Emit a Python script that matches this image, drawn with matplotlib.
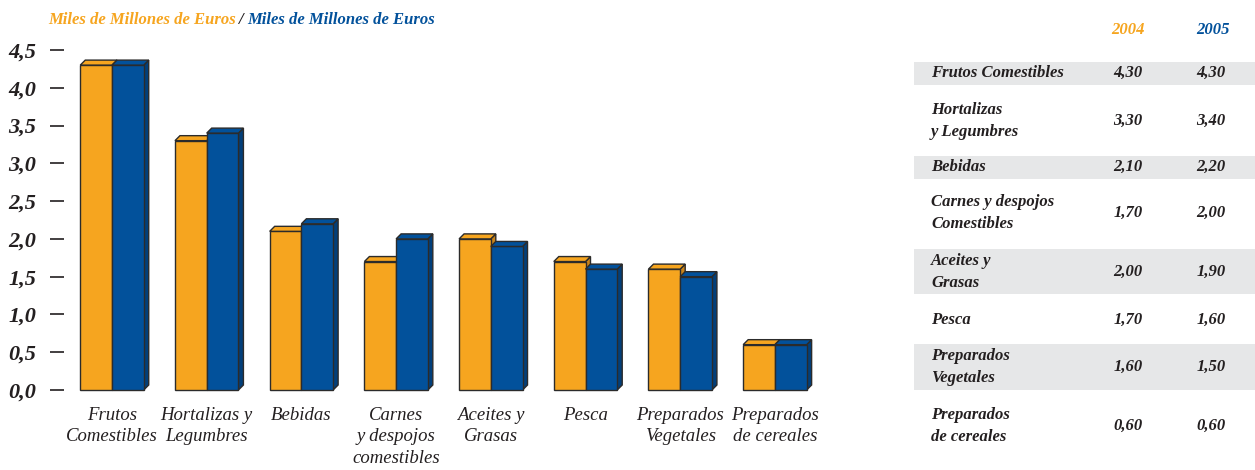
import matplotlib
matplotlib.use("Agg")
import matplotlib.pyplot as plt
from matplotlib.patches import Polygon, Rectangle

categories = ["Frutos\nComestibles", "Hortalizas y\nLegumbres", "Bebidas",
              "Carnes\ny despojos\ncomestibles", "Aceites y\nGrasas", "Pesca",
              "Preparados\nVegetales", "Preparados\nde cereales"]
table_labels = ["Frutos Comestibles", "Hortalizas\ny Legumbres", "Bebidas",
                "Carnes y despojos\nComestibles", "Aceites y\nGrasas", "Pesca",
                "Preparados\nVegetales", "Preparados\nde cereales"]
years = ["2004", "2005"]
values_2004 = [4.3, 3.3, 2.1, 1.7, 2.0, 1.7, 1.6, 0.6]
values_2005 = [4.3, 3.4, 2.2, 2.0, 1.9, 1.6, 1.5, 0.6]
yticks = [0.0, 0.5, 1.0, 1.5, 2.0, 2.5, 3.0, 3.5, 4.0, 4.5]
unit_label = "Miles de Millones de Euros"

ORANGE = "#F6A51F"
BLUE = "#02519B"
BLUE_SIDE = "#023F7A"
ORANGE_SIDE = "#C9841A"
EDGE = "#2b2b2b"
GRAY = "#E6E7E8"
TXT = "#231F20"
SERIF = ["Liberation Serif", "DejaVu Serif"]

W, H = 1255, 470
fig = plt.figure(figsize=(W / 100, H / 100), dpi=100)

# main chart axes (pixel layout)
ax_l, ax_r, ax_b, ax_t = 64, 830, 390, 50
ax = fig.add_axes([ax_l / W, (H - ax_b) / H, (ax_r - ax_l) / W, (ax_b - ax_t) / H])
step_px = 94.7
x0 = -(112 - ax_l) / step_px
ax.set_xlim(x0, x0 + (ax_r - ax_l) / step_px)
ax.set_ylim(0, 4.5)
for s in ax.spines.values():
    s.set_visible(False)

bw = 0.335
dx = 5 / step_px
dy = 5 / ((ax_b - ax_t) / 4.5)


def bar3d(x_left, val, face, side):
    ax.add_patch(Rectangle((x_left, 0), bw, val, facecolor=face, edgecolor=EDGE,
                           linewidth=1.0, zorder=3, clip_on=False))
    ax.add_patch(Polygon([(x_left, val), (x_left + dx, val + dy), (x_left + bw + dx, val + dy),
                          (x_left + bw, val)], closed=True, facecolor=face, edgecolor=EDGE,
                         linewidth=1.0, zorder=3, clip_on=False))
    ax.add_patch(Polygon([(x_left + bw, 0), (x_left + bw + dx, dy), (x_left + bw + dx, val + dy),
                          (x_left + bw, val)], closed=True, facecolor=side, edgecolor=EDGE,
                         linewidth=1.0, zorder=2.5, clip_on=False))


for i, (a, b) in enumerate(zip(values_2004, values_2005)):
    bar3d(i - bw, a, ORANGE, ORANGE_SIDE)
    bar3d(i, b, BLUE, BLUE_SIDE)

ax.set_yticks(yticks)
ax.set_yticklabels([f"{v:.1f}".replace(".", ",") for v in yticks],
                   fontfamily=SERIF, fontstyle="italic", fontweight="bold",
                   fontsize=16, color=TXT)
ax.tick_params(axis="y", direction="out", length=10, width=1.2, color=TXT, pad=10)
ax.set_xticks(range(len(categories)))
ax.set_xticklabels(categories, fontfamily=SERIF, fontstyle="italic", fontsize=13.5,
                   color=TXT, linespacing=1.35, va="top")
ax.tick_params(axis="x", length=0, pad=12)

# overlay axes for title and table (pixel coordinates)
ov = fig.add_axes([0, 0, 1, 1], zorder=-1)
ov.set_xlim(0, W)
ov.set_ylim(H, 0)
ov.axis("off")

tfont = dict(fontfamily=SERIF, fontstyle="italic", fontweight="bold", fontsize=12)
t1 = ov.text(48, 20, unit_label, color=ORANGE, va="center", ha="left", **tfont)
fig.canvas.draw()
bb = t1.get_window_extent()
t2 = ov.text(bb.x1 + 3, 20, "/", color=TXT, va="center", ha="left", **tfont)
bb2 = t2.get_window_extent()
ov.text(bb2.x1 + 4, 20, unit_label, color=BLUE, va="center", ha="left", **tfont)

# table
col_x = [1128, 1213]
ov.text(col_x[0], 30, years[0], color=ORANGE, ha="center", va="center", **tfont)
ov.text(col_x[1], 30, years[1], color=BLUE, ha="center", va="center", **tfont)
row_centers = [73, 121, 167, 213, 272, 320, 367, 426]
row_bands = [(62, 85), None, (156, 179), None, (249, 294), None, (344, 390), None]
for lab, a, b, yc, band in zip(table_labels, values_2004, values_2005, row_centers, row_bands):
    if band is not None:
        ov.add_patch(Rectangle((914, band[0]), W - 914, band[1] - band[0],
                               facecolor=GRAY, edgecolor="none"))
    ov.text(931, yc, lab, color=TXT, ha="left", va="center", linespacing=1.5, **tfont)
    ov.text(col_x[0], yc, f"{a:.2f}".replace(".", ","), color=TXT, ha="center", va="center", **tfont)
    ov.text(col_x[1] - 2, yc, f"{b:.2f}".replace(".", ","), color=TXT, ha="center", va="center", **tfont)

fig.savefig("out.png", dpi=100, facecolor="white")
